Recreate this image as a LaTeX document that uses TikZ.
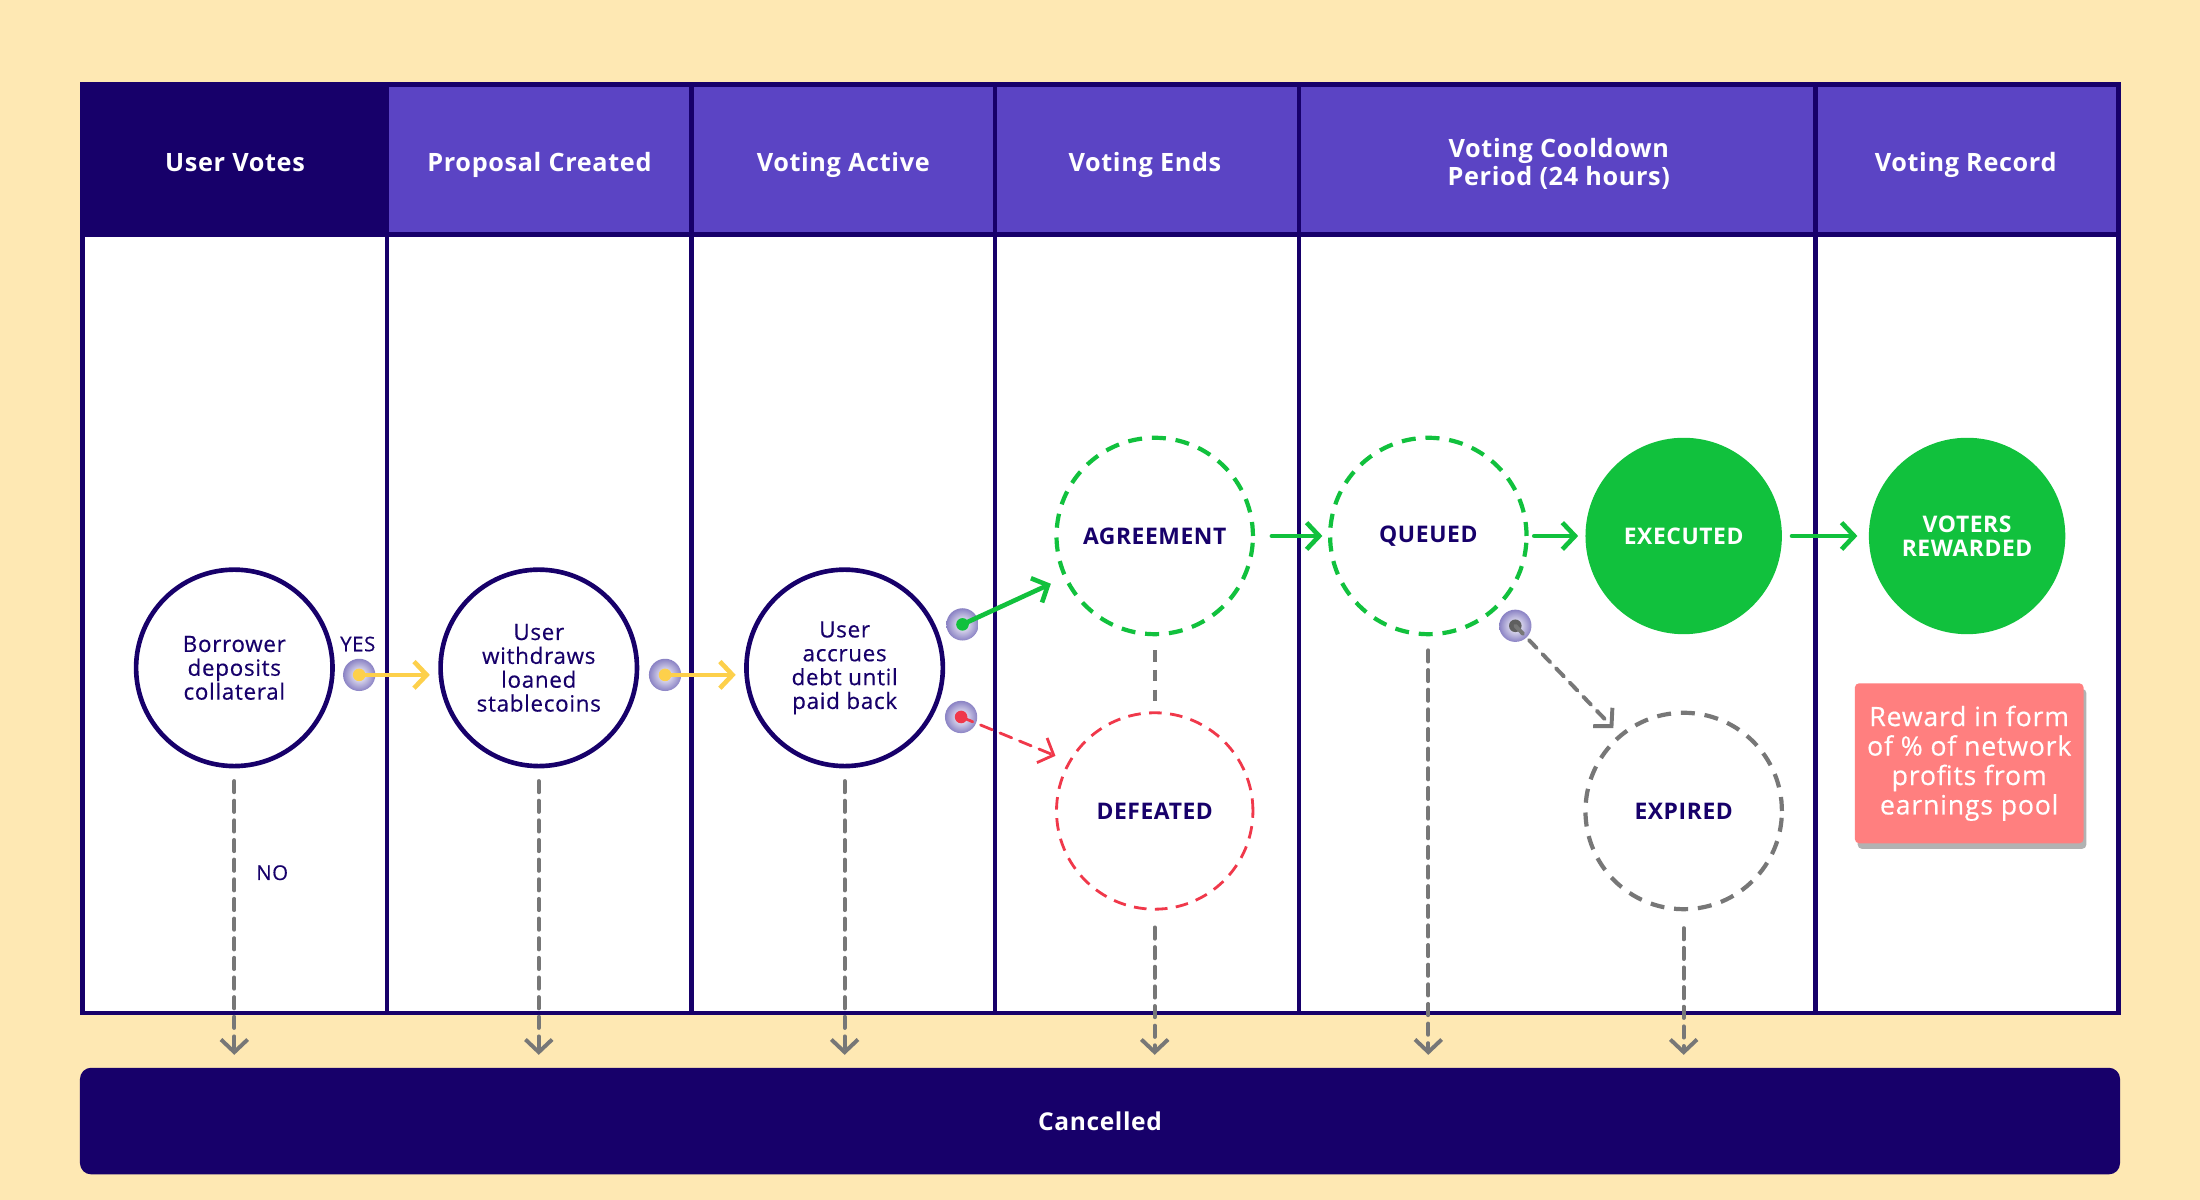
\documentclass[tikz,border=0pt]{standalone}
\usepackage{fontspec}
\setmainfont{Open Sans}[LetterSpace=2.5]
\newfontfamily\semib{Open Sans}[FakeBold=0.4, LetterSpace=3]
\usetikzlibrary{arrows.meta,shadows,calc}
\definecolor{bgc}{HTML}{FEE8B3}
\definecolor{navy}{HTML}{17006A}
\definecolor{purp}{HTML}{5B44C4}
\definecolor{grn}{HTML}{11C13D}
\definecolor{redc}{HTML}{F0384A}
\definecolor{grayc}{HTML}{777777}
\definecolor{yel}{HTML}{FDD04B}
\definecolor{pinkc}{HTML}{FF7F7F}
\definecolor{portc}{HTML}{8A82C4}
\tikzset{
  hdr/.style={text=white, font=\fontsize{18}{20}\selectfont\bfseries, align=center, inner sep=0pt},
  circ/.style={circle, minimum size=140pt, inner sep=0pt, align=center, text=navy,
    font=\semib\fontsize{16}{17}\selectfont},
  solidc/.style={circ, draw=navy, line width=3.3pt},
  capf/.style={font=\fontsize{16.3}{17}\selectfont\bfseries},
  gdash/.style={circ, draw=grn, line width=3pt, dash pattern=on 10pt off 7pt, capf},
  rdash/.style={circ, draw=redc, line width=2pt, dash pattern=on 9pt off 6pt, capf},
  ydash/.style={circ, draw=grayc, line width=3pt, dash pattern=on 10pt off 7pt, capf},
  gfill/.style={circ, fill=grn, text=white, capf},
  port/.style={circle, minimum size=23pt, inner sep=0pt, inner color=white, outer color=portc},
  tipc/.style={-{Straight Barb[length=9pt,width=19pt]}, line cap=round},
  yarr/.style={tipc, draw=yel, line width=3.3pt},
  garr/.style={tipc, draw=grn, line width=3.3pt},
  rarr/.style={tipc, draw=redc, line width=2pt, dash pattern=on 9pt off 6pt},
  darr/.style={tipc, draw=grayc, line width=2.8pt, dash pattern=on 8pt off 6pt},
  dline/.style={draw=grayc, line width=2.8pt, dash pattern=on 8pt off 6pt},
  lbl/.style={text=navy, font=\semib\fontsize{14.5}{16}\selectfont, inner sep=0pt},
}
\begin{document}
\begin{tikzpicture}[x=1pt,y=-1pt]
\fill[bgc] (0,0) rectangle (1568,855);
\useasboundingbox (0,0) rectangle (1568,855);
% table
\fill[white] (59,60) rectangle (1510,722);
\fill[purp] (59,60) rectangle (1510,167);
\fill[navy] (59,60) rectangle (276,167);
\draw[navy, line width=3.5pt] (59,60) rectangle (1510,722);
\draw[navy, line width=3.5pt] (59,167) -- (1510,167);
\foreach \xx in {276,493,709,926,1294} \draw[navy, line width=3.2pt] (\xx,60) -- (\xx,722);
% headers
\node[hdr, anchor=base] (h1) at (167.5,122) {User Votes};
\node[hdr, anchor=base] (h2) at (384.5,122) {Proposal Created};
\node[hdr, anchor=base] (h3) at (601,122) {Voting Active};
\node[hdr, anchor=base] (h4) at (816,122) {Voting Ends};
\node[hdr] (h5) at (1111,116.5) {Voting Cooldown\\Period (24 hours)};
\node[hdr, anchor=base] (h6) at (1401,122) {Voting Record};
% cancelled
\node[fill=navy, rounded corners=8pt, minimum width=1454pt, minimum height=76pt, text=white,
  font=\fontsize{17.5}{20}\selectfont\bfseries] (cancel) at (784,799) {Cancelled};
% circles
\node[solidc] (c1) at (167,476) {Borrower\\deposits\\collateral};
\node[solidc] (c2) at (384,476) {User\\withdraws\\loaned\\stablecoins};
\node[solidc] (c3) at (602,476) {User\\accrues\\debt until\\paid back};
\node[gdash] (agree) at (823,382) {AGREEMENT};
\node[rdash] (def) at (823,578) {DEFEATED};
\node[gdash] (queue) at (1018,382) {QUEUED};
\node[gfill] (exec) at (1200,382) {EXECUTED};
\node[gfill] (voters) at (1402,382) {VOTERS\\REWARDED};
\node[ydash] (exp) at (1200,578) {EXPIRED};
% reward box
\node[fill=pinkc, rounded corners=3pt, minimum width=163pt, minimum height=114pt, text=white,
  align=center, font=\semib\fontsize{19}{21}\selectfont,
  drop shadow={shadow xshift=2pt, shadow yshift=-4pt, opacity=0.3, fill=black}] (rw) at (1403.5,544)
  {Reward in form\\of \% of network\\profits from\\earnings pool};
% labels
\node[lbl] (yes) at (255,459) {YES};
\node[lbl] (no) at (194,622) {NO};
% ports
\node[port] (p1) at (256,481) {};
\node[port] (p2) at (474,481) {};
\node[port] (pg) at (686,445) {};
\node[port] (pr) at (685,511) {};
\node[port] (pq) at (1080,446) {};
\fill[yel] (p1.center) circle (4.5);
\fill[yel] (p2.center) circle (4.5);
\fill[grn] (pg.center) circle (4.5);
\fill[redc] (pr.center) circle (4.5);
\fill[grayc!80!black] (pq.center) circle (4.5);
% connectors
\draw[yarr, shorten >=6pt] (p1.center) -- (p1 -| c2.west);
\draw[yarr, shorten >=6pt] (p2.center) -- (p2 -| c3.west);
\draw[garr, shorten >=10pt] (pg.center) -- (agree);
\draw[rarr, shorten >=10pt] (pr.center) -- (def.150);
\draw[garr, shorten <=12pt, shorten >=4pt] (agree) -- (queue);
\draw[garr, shorten <=4pt, shorten >=5pt] (queue) -- (exec);
\draw[garr, shorten <=7pt, shorten >=8pt] (exec) -- (voters);
\draw[darr, shorten >=6pt] (pq.center) -- (exp.130);
\draw[dline, shorten <=10pt, shorten >=3pt] (agree) -- (def);
\draw[darr, shorten <=9pt, shorten >=9pt] (c1) -- (c1 |- cancel.north);
\draw[darr, shorten <=9pt, shorten >=9pt] (c2) -- (c2 |- cancel.north);
\draw[darr, shorten <=9pt, shorten >=9pt] (c3) -- (c3 |- cancel.north);
\draw[darr, shorten <=12pt, shorten >=9pt] (def) -- (def |- cancel.north);
\draw[darr, shorten <=10pt, shorten >=9pt] (queue) -- (queue |- cancel.north);
\draw[darr, shorten <=12pt, shorten >=9pt] (exp) -- (exp |- cancel.north);
\end{tikzpicture}
\end{document}
